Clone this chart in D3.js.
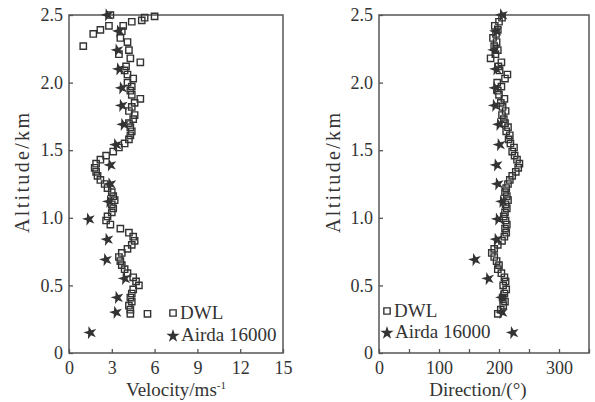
<!DOCTYPE html>
<html lang="en">
<head>
<meta charset="utf-8">
<title>DWL vs Airda 16000 profiles</title>
<script src="https://d3js.org/d3.v7.min.js"></script>
<style>
  body { margin: 0; background: #fff; }
  svg text { font-family: "Liberation Serif", "DejaVu Serif", serif; fill: #333; }
</style>
</head>
<body>
<div id="chart"></div>
<script>
// DWL profile: altitude (km), wind speed (m/s), wind direction (deg)
const dwlAlt = [0.29,0.32,0.35,0.38,0.41,0.44,0.47,0.50,0.53,0.56,0.59,0.62,0.65,0.68,0.71,0.74,0.77,0.80,0.83,0.86,
  0.89,0.92,0.95,0.98,1.01,1.04,1.07,1.10,1.13,1.16,1.19,1.22,1.25,1.28,1.31,1.34,1.37,1.40,1.43,1.46,
  1.49,1.52,1.55,1.58,1.61,1.64,1.67,1.70,1.73,1.76,1.79,1.82,1.85,1.88,1.91,1.94,1.97,2.00,2.03,2.06,
  2.09,2.12,2.15,2.18,2.21,2.24,2.27,2.30,2.33,2.36,2.39,2.42,2.45,2.48]
const dwlVel = [4.3,4.3,4.2,4.4,4.3,4.4,4.5,4.9,4.7,4.5,4.1,3.9,3.7,3.6,3.5,3.7,4.1,4.4,4.6,4.5,
  4.2,3.6,2.9,2.6,2.7,3.0,3.1,3.0,3.2,3.1,3.0,2.7,2.5,2.2,2.0,1.9,1.8,1.9,2.2,2.6,
  3.1,3.5,3.9,4.2,4.3,4.4,4.3,4.2,4.5,4.6,4.2,4.4,4.6,5.0,4.4,4.3,4.4,4.1,4.5,4.1,
  3.9,4.0,5.0,4.3,3.5,4.2,1.0,4.1,3.6,1.7,2.2,2.8,4.4,5.3]
const dwlDir = [198,203,207,210,206,209,212,207,211,209,204,198,200,196,192,188,192,198,205,209,
  212,210,213,211,208,210,213,211,215,213,210,212,215,218,222,228,232,234,230,226,
  222,225,219,216,218,212,215,210,208,205,211,206,203,209,200,198,204,197,210,214,
  201,199,204,186,194,198,192,196,190,195,198,193,200,205]
// a few scattered DWL speed returns
const dwlVelExtraAlt = [0.29, 2.38, 2.50, 2.49, 2.46, 2.42]
const dwlVelExtra = [5.5, 3.7, 2.9, 6.0, 5.1, 3.8]

// Airda 16000 sounding
const airAlt = [0.15,0.30,0.41,0.55,0.69,0.84,0.99,1.12,1.25,1.39,1.54,1.69,1.83,1.96,2.10,2.24,2.38,2.50]
const airVel = [1.5,3.3,3.4,3.9,2.6,2.7,1.4,2.8,2.9,2.9,3.3,3.8,3.7,3.7,3.5,3.4,3.5,2.7]
const airDir = [223,205,205,182,160,196,198,205,198,196,201,200,193,194,195,192,195,205]

// ticks
const altTicks = [0, 0.5, 1.0, 1.5, 2.0, 2.5]
const velTicks = [0, 3, 6, 9, 12, 15]
const dirTicks = [0, 50, 100, 150, 200, 250, 300, 350]
const dirLabels = [0, 100, 200, 300]

const width = 595, height = 402
const ink = "#333"

const svg = d3.select("#chart").append("svg")
  .attr("width", width)
  .attr("height", height)

const y = d3.scaleLinear().domain([0, 2.5]).range([353, 15])

function panel(opts) {
  const x = d3.scaleLinear().domain(opts.domain).range(opts.range)
  const g = svg.append("g")

  // bottom axis, ticks pointing in
  g.append("g")
    .attr("transform", `translate(0,${y(0)})`)
    .call(d3.axisBottom(x).tickValues(opts.ticks).tickSize(-4).tickSizeOuter(0).tickPadding(8)
      .tickFormat(d => opts.labels.includes(d) ? d : ""))
    .call(a => a.select(".domain").remove())
    .call(a => a.selectAll("line").attr("stroke", "#555").attr("stroke-width", 1.3))
    .call(a => a.selectAll("text").attr("font-size", 18).attr("fill", ink))

  // left axis
  g.append("g")
    .attr("transform", `translate(${opts.range[0]},0)`)
    .call(d3.axisLeft(y).tickValues(altTicks).tickSize(-4).tickSizeOuter(0).tickPadding(6)
      .tickFormat(d => d === 0 ? "0" : d3.format(".1f")(d)))
    .call(a => a.select(".domain").remove())
    .call(a => a.selectAll("line").attr("stroke", "#555").attr("stroke-width", 1.3))
    .call(a => a.selectAll("text").attr("font-size", 18).attr("fill", ink))

  // frame
  g.append("rect")
    .attr("x", opts.range[0]).attr("y", y(2.5))
    .attr("width", opts.range[1] - opts.range[0]).attr("height", y(0) - y(2.5))
    .attr("fill", "none").attr("stroke", "#555").attr("stroke-width", 1.5)

  const sq = d3.symbol().type(d3.symbolSquare).size(40)
  const star = d3.symbol().type(d3.symbolStar).size(55)

  // DWL squares
  g.append("g").selectAll("path")
    .data(opts.dwl)
    .join("path")
    .attr("d", sq)
    .attr("transform", d => `translate(${x(d[1])},${y(d[0])})`)
    .attr("fill", "none").attr("stroke", ink).attr("stroke-width", 1.4)

  // Airda stars
  g.append("g").selectAll("path")
    .data(opts.air)
    .join("path")
    .attr("d", star)
    .attr("transform", d => `translate(${x(d[1])},${y(d[0])}) rotate(-15)`)
    .attr("fill", ink)

  // y title
  g.append("text")
    .attr("transform", `translate(${opts.yTitleX},173) rotate(-90)`)
    .attr("text-anchor", "middle").attr("dominant-baseline", "central")
    .attr("font-size", 20)
    .attr("textLength", 120)
    .text("Altitude/km")

  // x title
  const t = g.append("text")
    .attr("x", (opts.range[0] + opts.range[1]) / 2 + opts.titleShift)
    .attr("y", 396)
    .attr("text-anchor", "middle")
    .attr("font-size", 19)
  opts.title(t)

  // legend
  const L = opts.legend
  g.append("path").attr("d", sq).attr("transform", `translate(${L.x},${L.y1})`)
    .attr("fill", "none").attr("stroke", ink).attr("stroke-width", 1.4)
  g.append("text").attr("x", L.x + 7).attr("y", L.y1 + 6).attr("font-size", 19).text("DWL")
  g.append("path").attr("d", star).attr("transform", `translate(${L.x},${L.y2})`)
    .attr("fill", ink)
  g.append("text").attr("x", L.x + 8).attr("y", L.y2 + 5).attr("font-size", 19).text("Airda 16000")
}

const velDwl = dwlAlt.map((a, i) => [a, dwlVel[i]])
  .concat(dwlVelExtraAlt.map((a, i) => [a, dwlVelExtra[i]]))
const dirDwl = dwlAlt.map((a, i) => [a, dwlDir[i]])

panel({
  domain: [0, 15], range: [69, 283], ticks: velTicks, labels: velTicks,
  dwl: velDwl, air: airAlt.map((a, i) => [a, airVel[i]]),
  yTitleX: 22, titleShift: 0,
  title: t => {
    t.append("tspan").text("Velocity/ms")
    t.append("tspan").attr("dy", -7).attr("font-size", 11).text("-1")
  },
  legend: { x: 173, y1: 313, y2: 336 }
})

panel({
  domain: [0, 350], range: [379, 589], ticks: dirTicks, labels: dirLabels,
  dwl: dirDwl, air: airAlt.map((a, i) => [a, airDir[i]]),
  yTitleX: 333, titleShift: -6,
  title: t => t.text("Direction/(°)"),
  legend: { x: 387, y1: 311, y2: 333 }
})
</script>
</body>
</html>
